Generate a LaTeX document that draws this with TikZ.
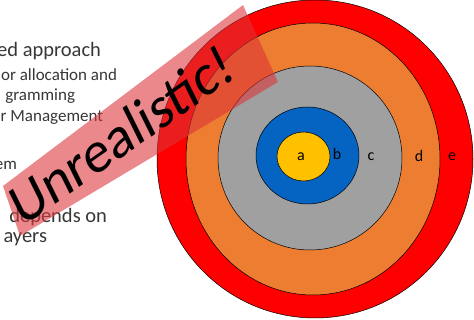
\documentclass[tikz,border=0pt]{standalone}
\usepackage{fontspec}
\setmainfont{Carlito}
\usetikzlibrary{shapes.geometric}

\definecolor{ringred}{RGB}{255,0,0}
\definecolor{ringorange}{RGB}{237,125,49}
\definecolor{ringgray}{RGB}{160,160,160}
\definecolor{ringblue}{RGB}{5,99,193}
\definecolor{ringyellow}{RGB}{255,192,0}
\definecolor{bannerred}{RGB}{220,50,55}
\definecolor{slidetext}{RGB}{55,55,55}

\begin{document}
\begin{tikzpicture}[
x=1pt, y=-1pt,
every node/.style={
inner sep=0pt,
outer sep=0pt
},
ring/.style={ellipse, draw=black, line width=0.5pt}
]

% =====================================================
% Styles
% =====================================================

\tikzstyle{bigline} =
[anchor=base east,
text=slidetext,
font=\fontsize{20.5}{24}\selectfont]

\tikzstyle{smallline} =
[anchor=base east,
text=slidetext,
font=\fontsize{17}{20}\selectfont]

\tikzstyle{layer} =
[text=black,
font=\fontsize{16}{18}\selectfont]

\tikzstyle{banner} =
[fill=bannerred,
fill opacity=0.58]

\useasboundingbox (0,0) rectangle (474,320);
\clip (0,0) rectangle (474,320);

% =====================================================
% Slide text
% =====================================================

\node (approach) [bigline] at (101,57) {ed approach};

\node (allocation) [smallline] at (117,81) {or allocation and};

\node (programming) [smallline] at (75,101) {gramming};

\node (management) [smallline] at (103,122) {r Management};

\node (system) [smallline] at (17,170) {em};

\node (depends) [bigline] at (107,223) {depends on};

\node (layers) [bigline] at (47,243) {ayers};

% =====================================================
% Rings
% =====================================================

\node (e) [ring, fill=ringred, minimum width=316pt, minimum height=318pt]
at (315,159) {};

\node (d) [ring, fill=ringorange, minimum width=254pt, minimum height=272pt]
at (313,159) {};

\node (c) [ring, fill=ringgray, minimum width=184pt, minimum height=184pt]
at (310,158) {};

\node (b) [ring, fill=ringblue, minimum width=103pt, minimum height=97pt]
at (307.5,155.5) {};

\node (a) [ring, fill=ringyellow, minimum width=53pt, minimum height=49pt]
at (303.5,156.5) {};

\node (alabel) [layer] at (301,157) {a};
\node (blabel) [layer] at (337,154) {b};
\node (clabel) [layer] at (371,157) {c};
\node (dlabel) [layer] at (419,156) {d};
\node (elabel) [layer] at (452,157) {e};

% =====================================================
% Banner
% =====================================================

\fill [banner] (3,186) -- (243,5) -- (278,82) -- (20,236) -- cycle;

\node (unrealistic) [anchor=base, rotate=35, xslant=0.15, text=black,
font=\fontsize{57}{60}\selectfont] at (130,152) {Unrealistic!};

\end{tikzpicture}
\end{document}
